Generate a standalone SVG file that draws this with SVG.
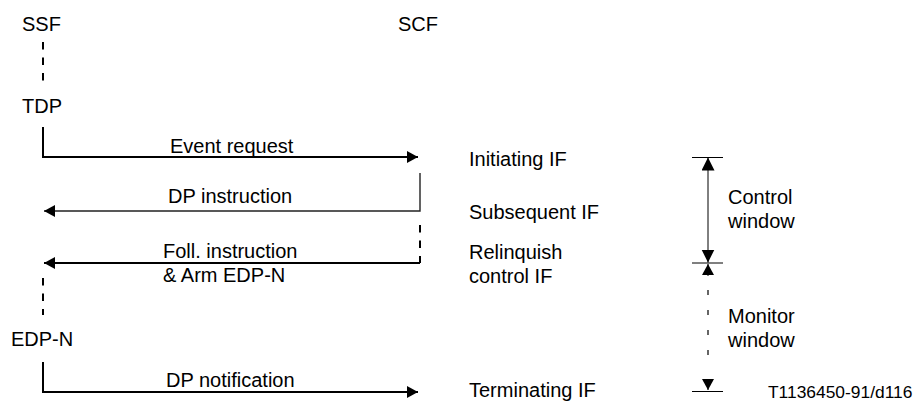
<svg xmlns="http://www.w3.org/2000/svg" width="920" height="403" viewBox="0 0 920 403">
<style>
text{font-family:"Liberation Sans",Arial,sans-serif;font-size:20px;fill:#000}
.small{font-size:17.4px}
.flow{fill:none;stroke:#000;stroke-width:2}
.thin{fill:none;stroke:#222;stroke-width:1.4}
.dash{fill:none;stroke:#000;stroke-width:2;stroke-dasharray:7.5 8}
.hair{fill:none;stroke:#000;stroke-width:1}
.mdash{fill:none;stroke:#000;stroke-width:1.2;stroke-dasharray:5 15}
</style>
<defs>
<marker id="ah" markerUnits="userSpaceOnUse" markerWidth="12" markerHeight="12" refX="11" refY="6" orient="auto">
<path d="M0,0 L11,6 L0,12 Z" fill="#000"/>
</marker>
<marker id="wh" markerUnits="userSpaceOnUse" markerWidth="14" markerHeight="14" refX="13" refY="6.5" orient="auto">
<path d="M0,0 L13,6.5 L0,13 Z" fill="#000"/>
</marker>
</defs>
<g id="ssf"><text x="22" y="31">SSF</text></g>
<g id="scf"><text x="398" y="31">SCF</text></g>
<g id="tdp"><text x="22" y="113">TDP</text></g>
<g id="edpn"><text x="11" y="346">EDP-N</text></g>
<g id="initiating"><text x="469" y="166">Initiating IF</text></g>
<g id="subsequent"><text x="469" y="219">Subsequent IF</text></g>
<g id="relinquish"><text x="469" y="259">Relinquish</text><text x="469" y="283">control IF</text></g>
<g id="terminating"><text x="469" y="397">Terminating IF</text></g>
<g id="control-window"><text x="728" y="204">Control</text><text x="728" y="228">window</text></g>
<g id="monitor-window"><text x="728" y="323">Monitor</text><text x="728" y="347">window</text></g>
<g id="ref"><text class="small" x="768" y="398">T1136450-91/d116</text></g>
<g id="connectors">
<path class="dash" d="M43,42 V82"/>
<path class="flow" d="M43,127 V157 H418" marker-end="url(#ah)"/>
<text x="170" y="153">Event request</text>
<path class="thin" d="M420,173 V211 H44" marker-end="url(#ah)"/>
<text x="168" y="203">DP instruction</text>
<path class="dash" d="M420,225 V263"/>
<path class="flow" d="M420,263 H44" marker-end="url(#ah)"/>
<text x="163" y="258">Foll. instruction</text>
<text x="163" y="282">&amp; Arm EDP-N</text>
<path class="dash" d="M43,278 V315"/>
<path class="flow" d="M43,362 V392 H418" marker-end="url(#ah)"/>
<text x="166" y="387">DP notification</text>
<path class="hair" d="M692,157.5 H723 M692,263 H723 M692,391.5 H723"/>
<path class="hair" d="M708,210 V157.5" marker-end="url(#wh)"/>
<path class="hair" d="M708,210 V262.5" marker-end="url(#wh)"/>
<path class="hair" d="M708,276 V264" marker-end="url(#ah)"/>
<path class="mdash" d="M708,290 V360"/>
<path class="hair" d="M708,380 V390" marker-end="url(#ah)"/>
</g>
</svg>
